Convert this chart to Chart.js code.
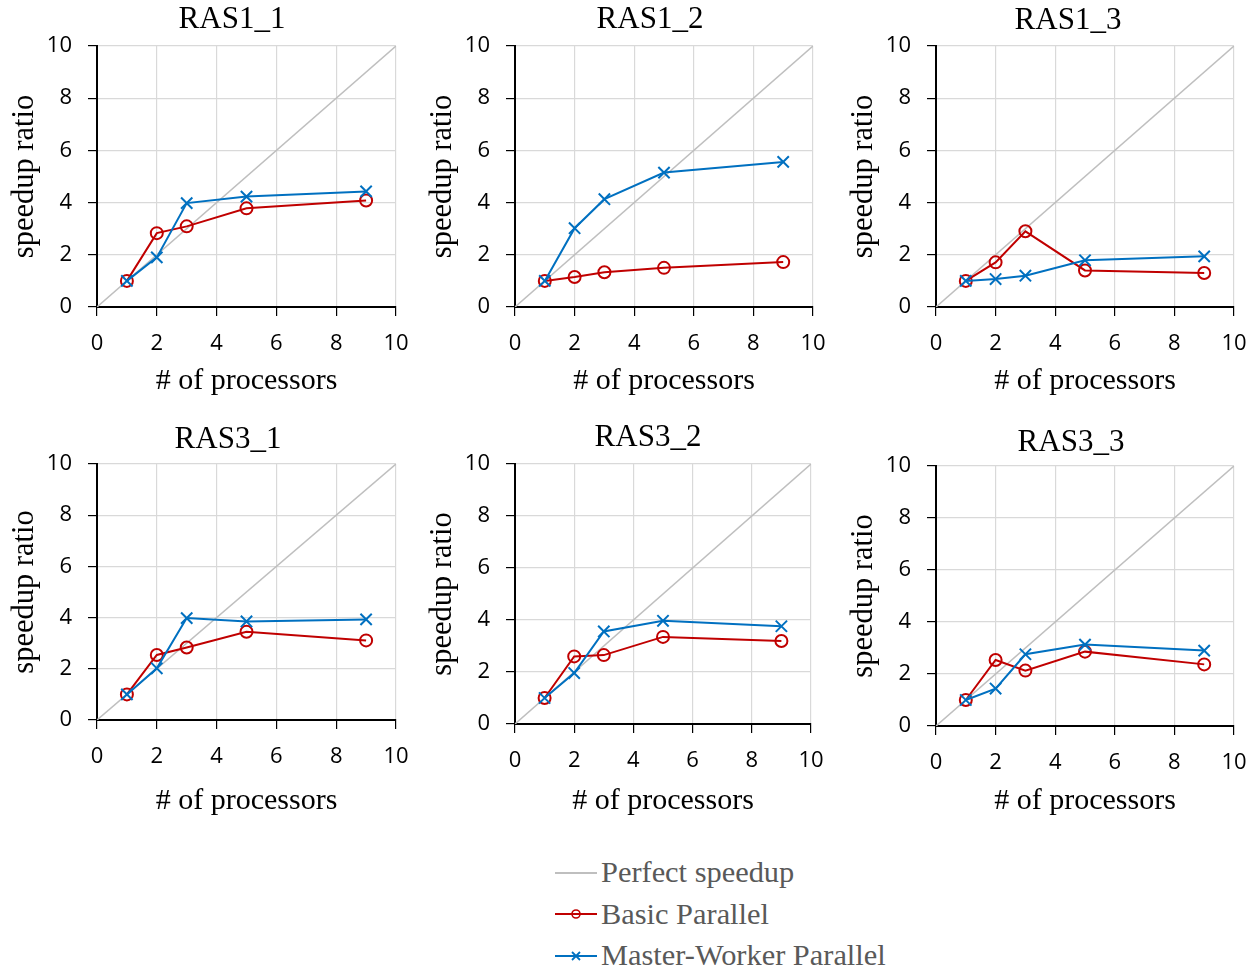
<!DOCTYPE html>
<html>
<head>
<meta charset="utf-8">
<script src="https://cdn.jsdelivr.net/npm/chart.js@4.4.1/dist/chart.umd.min.js"></script>
<style>
  body { margin: 0; background: #fff; width: 1258px; height: 970px; position: relative; overflow: hidden; }
  canvas { position: absolute; }
  #legend { position: absolute; left: 555px; top: 852px; font-family: "Liberation Serif", serif; font-size: 30.4px; color: #595959; }
  .row { height: 41.5px; line-height: 41.5px; display: flex; align-items: center; white-space: nowrap; }
  .row svg { margin-right: 4px; }
</style>
</head>
<body>
<div id="legend"></div>
<script>
// data
const titles = ["RAS1_1", "RAS1_2", "RAS1_3", "RAS3_1", "RAS3_2", "RAS3_3"];
const processors = [1, 2, 3, 5, 9];
const perfectLine = [0, 10];
const axisTicks = [0, 2, 4, 6, 8, 10];

const basicParallel = [
  [1, 2.83, 3.09, 3.78, 4.08],
  [1, 1.15, 1.33, 1.50, 1.72],
  [1, 1.71, 2.90, 1.40, 1.30],
  [1, 2.54, 2.83, 3.45, 3.11],
  [1, 2.60, 2.65, 3.35, 3.19],
  [1, 2.54, 2.13, 2.86, 2.37]
];
const masterWorker = [
  [1, 1.90, 3.98, 4.23, 4.43],
  [1, 3.02, 4.13, 5.15, 5.56],
  [1, 1.07, 1.20, 1.79, 1.94],
  [1, 2.02, 3.98, 3.85, 3.93],
  [1, 1.96, 3.56, 3.97, 3.76],
  [1, 1.44, 2.76, 3.13, 2.90]
];

const GRAY = "#bfbfbf", RED = "#c00000", BLUE = "#0070c0";

// plot rectangles on the page (chart area edges, title centres)
const plots = [
  { L: 97,  R: 396,  T: 46,  B: 307, titleX: 232,  titleY: 20,  xTitleY: 381 },
  { L: 515, R: 813,  T: 46,  B: 307, titleX: 650,  titleY: 20,  xTitleY: 381 },
  { L: 936, R: 1234, T: 46,  B: 307, titleX: 1068, titleY: 21,  xTitleY: 381 },
  { L: 97,  R: 396,  T: 464, B: 720, titleX: 228,  titleY: 440, xTitleY: 801 },
  { L: 515, R: 811,  T: 464, B: 724, titleX: 648,  titleY: 438, xTitleY: 801 },
  { L: 936, R: 1234, T: 466, B: 726, titleX: 1071, titleY: 443, xTitleY: 801 }
];

// right padding must cover half the "10" label plus tick padding
const Y_W = 97, X_H = 95, TITLE_H = 46, PAD_R = 32;

// panel title drawn at a fixed spot (Excel centres it over the whole panel)
const panelTitle = {
  id: "panelTitle",
  afterDraw(chart, args, opts) {
    const ctx = chart.ctx;
    ctx.save();
    ctx.font = '31px "Liberation Serif"';
    ctx.fillStyle = "#000";
    ctx.textAlign = "center";
    ctx.textBaseline = "middle";
    ctx.fillText(opts.text, opts.x, opts.y);
    ctx.restore();
  }
};

plots.forEach((p, i) => {
  const cl = p.L - Y_W, ct = p.T - TITLE_H;
  const cw = p.R - p.L + Y_W + PAD_R, ch = p.B - p.T + TITLE_H + X_H;
  const cv = document.createElement("canvas");
  cv.width = cw; cv.height = ch;
  cv.style.left = cl + "px"; cv.style.top = ct + "px";
  cv.style.width = cw + "px"; cv.style.height = ch + "px";
  document.body.appendChild(cv);

  new Chart(cv, {
    type: "scatter",
    plugins: [panelTitle],
    data: {
      datasets: [
        {
          label: "Perfect speedup",
          data: perfectLine.map(v => ({ x: v, y: v })),
          showLine: true, borderColor: GRAY, borderWidth: 1.5,
          pointRadius: 0, order: 3
        },
        {
          label: "Basic Parallel",
          data: processors.map((x, j) => ({ x: x, y: basicParallel[i][j] })),
          showLine: true, borderColor: RED, borderWidth: 2,
          pointStyle: "circle", pointRadius: 6, pointBorderWidth: 2,
          pointBorderColor: RED, pointBackgroundColor: "rgba(0,0,0,0)", order: 2
        },
        {
          label: "Master-Worker Parallel",
          data: processors.map((x, j) => ({ x: x, y: masterWorker[i][j] })),
          showLine: true, borderColor: BLUE, borderWidth: 2,
          pointStyle: "crossRot", pointRadius: 8, pointBorderWidth: 2,
          pointBorderColor: BLUE, order: 1
        }
      ]
    },
    options: {
      responsive: false,
      animation: false,
      devicePixelRatio: 1,
      layout: { padding: { left: 0, right: PAD_R, top: TITLE_H, bottom: 0 } },
      plugins: {
        legend: { display: false },
        tooltip: { enabled: false },
        title: { display: false },
        panelTitle: { text: titles[i], x: p.titleX - cl, y: p.titleY - ct }
      },
      scales: {
        x: {
          type: "linear", min: 0, max: 10,
          afterBuildTicks: s => { s.ticks = axisTicks.map(v => ({ value: v })); },
          afterFit: s => { s.height = X_H; },
          grid: { color: "#d9d9d9", lineWidth: 1.2, tickColor: "#000", tickLength: 9 },
          border: { color: "#000", width: 2 },
          ticks: { color: "#000", font: { family: "Open Sans", size: 22 }, padding: 15, maxRotation: 0 },
          title: {
            display: true, text: "# of processors", color: "#000",
            font: { family: "Liberation Serif", size: 30 },
            padding: { top: 0, bottom: (p.B + X_H) - p.xTitleY - 18 }
          }
        },
        y: {
          type: "linear", min: 0, max: 10,
          afterBuildTicks: s => { s.ticks = axisTicks.map(v => ({ value: v })); },
          afterFit: s => { s.width = Y_W; },
          grid: { color: "#d9d9d9", lineWidth: 1.2, tickColor: "#000", tickLength: 9 },
          border: { color: "#000", width: 2 },
          ticks: { color: "#000", font: { family: "Open Sans", size: 22 }, padding: 16 },
          title: {
            display: true, text: "speedup ratio", color: "#000",
            font: { family: "Liberation Serif", size: 30.5 },
            padding: { top: 7, bottom: 0 }
          }
        }
      }
    }
  });
});

// legend below the grid
const legendItems = [
  { label: "Perfect speedup", color: GRAY, marker: "none" },
  { label: "Basic Parallel", color: RED, marker: "circle" },
  { label: "Master-Worker Parallel", color: BLUE, marker: "cross" }
];
const legend = document.getElementById("legend");
legendItems.forEach(item => {
  let mk = "";
  if (item.marker === "circle") {
    mk = `<circle cx="21" cy="7" r="4" fill="none" stroke="${item.color}" stroke-width="1.6"/>`;
  } else if (item.marker === "cross") {
    mk = `<path d="M17 3 L25 11 M25 3 L17 11" stroke="${item.color}" stroke-width="1.8"/>`;
  }
  const row = document.createElement("div");
  row.className = "row";
  row.innerHTML = `<svg width="42" height="14"><line x1="0" y1="7" x2="42" y2="7" stroke="${item.color}" stroke-width="2"/>${mk}</svg><span>${item.label}</span>`;
  legend.appendChild(row);
});
</script>
</body>
</html>
